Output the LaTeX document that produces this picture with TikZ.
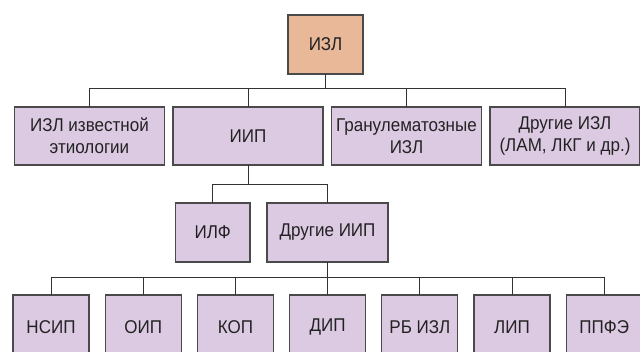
\documentclass[tikz,border=0pt]{standalone}
\usepackage{fontspec}
\setmainfont{Liberation Sans}[FakeStretch=0.92]
\usetikzlibrary{positioning}
\definecolor{rootfill}{HTML}{E9B898}
\definecolor{boxfill}{HTML}{DCCAE3}
\definecolor{framegray}{HTML}{4A4A4A}
\definecolor{textgray}{HTML}{222222}

\begin{document}
\begin{tikzpicture}[x=1pt,y=-1pt,
	font=\fontsize{18.5}{22}\selectfont,
	box/.style={draw=framegray,
		fill=boxfill,
		text=textgray,
		line width=1.1pt,
		align=center,
		inner sep=0pt,
		outer sep=0pt,
		minimum height=58pt},
	link/.style={draw=black!80, line width=1pt}]

		\useasboundingbox (0,0) rectangle (640,352);

		% root
		\node[box,
			fill=rootfill,
			minimum width=75pt,
			minimum height=59pt
		] (izl) at (325.5,44.5) {ИЗЛ};

		% second row
		\node[box,
			anchor=north west,
			minimum width=150pt
		] (known) at (14.5,107) {ИЗЛ известной\\этиологии};

		\node[box,
			right=8.5pt of known,
			minimum width=150pt
		] (iip) {ИИП};

		\node[box,
			right=8.5pt of iip,
			minimum width=150pt
		] (granul) {Гранулематозные\\ИЗЛ};

		\node[box,
			right=8.5pt of granul,
			minimum width=150pt
		] (otherizl) {Другие ИЗЛ\\(ЛАМ, ЛКГ и др.)};

		% third row
		\node[box,
			anchor=north west,
			minimum width=74.5pt,
			minimum height=59pt
		] (ilf) at (175.5,203) {ИЛФ};

		\node[box,
			right=17pt of ilf,
			minimum width=121pt,
			minimum height=59pt
		] (otheriip) {Другие ИИП};

		% bottom row, runs off the page
		\node[box, anchor=north west, minimum width=76pt, minimum height=64pt] (nsip) at (13,295) {НСИП};
		\node[box, right=16.2pt of nsip, minimum width=76pt, minimum height=64pt] (oip) {ОИП};
		\node[box, right=16.2pt of oip, minimum width=76pt, minimum height=64pt] (kop) {КОП};
		\node[box, right=16.2pt of kop, minimum width=76pt, minimum height=64pt] (dip) {ДИП};
		\node[box, right=16.2pt of dip, minimum width=76pt, minimum height=64pt] (rbizl) {РБ ИЗЛ};
		\node[box, right=16.2pt of rbizl, minimum width=76pt, minimum height=64pt] (lip) {ЛИП};
		\node[box, right=16.2pt of lip, minimum width=76pt, minimum height=64pt] (ppfe) {ППФЭ};

		\draw[link] (izl.south) -- ++(0,15) -| (known.north)
		(izl.south) -- ++(0,15) -| (iip.north)
		(izl.south) -- ++(0,15) -| (granul.north)
		(izl.south) -- ++(0,15) -| (otherizl.north);

		\draw[link] (iip.south) -- ++(0,20) -| (ilf.north)
		(iip.south) -- ++(0,20) -| (otheriip.north);

		\draw[link] (otheriip.south) -- ++(0,16) -| (nsip.north)
		(otheriip.south) -- ++(0,16) -| (oip.north)
		(otheriip.south) -- ++(0,16) -| (kop.north)
		(otheriip.south) -- ++(0,16) -| (dip.north)
		(otheriip.south) -- ++(0,16) -| (rbizl.north)
		(otheriip.south) -- ++(0,16) -| (lip.north)
		(otheriip.south) -- ++(0,16) -| (ppfe.north);

	\end{tikzpicture}
\end{document}
